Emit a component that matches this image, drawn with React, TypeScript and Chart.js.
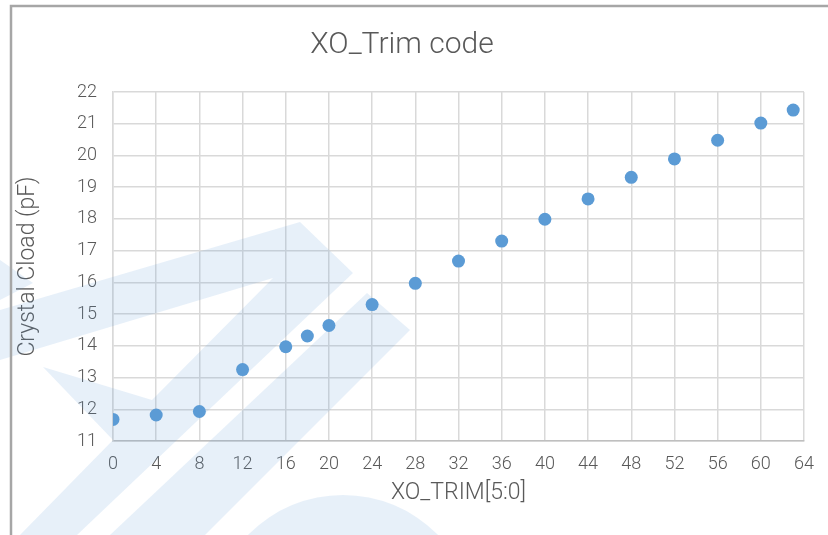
import React, { useEffect, useRef } from "react";
import { Chart, registerables } from "chart.js";

Chart.register(...registerables);

// ---- data ----
const trimCodes: number[] = [0, 4, 8, 12, 16, 18, 20, 24, 28, 32, 36, 40, 44, 48, 52, 56, 60, 63];
const crystalCloadPF: number[] = [
  11.68, 11.82, 11.93, 13.25, 13.97, 14.31, 14.64, 15.3, 15.97, 16.67, 17.3, 17.99, 18.63, 19.31,
  19.89, 20.48, 21.02, 21.43,
];
const xTickValues: number[] = [0, 4, 8, 12, 16, 20, 24, 28, 32, 36, 40, 44, 48, 52, 56, 60, 64];
const yTickValues: number[] = [11, 12, 13, 14, 15, 16, 17, 18, 19, 20, 21, 22];

const chartTitle = "XO_Trim code";
const xAxisTitle = "XO_TRIM[5:0]";
const yAxisTitle = "Crystal Cload (pF)";

// ---- decoration (background watermark, frame) ----
const WATERMARK_FILL = "rgba(91,155,213,0.15)";
const watermarkPolys: number[][][] = [
  [[0, 260], [33, 283], [0, 300]],
  [[0, 310], [300, 222], [353, 273], [273, 278], [0, 360]],
  [[43, 367], [152, 400], [273, 278], [353, 273], [77, 535], [20, 535], [113, 440]],
  [[110, 535], [367, 293], [410, 330], [205, 535]],
];
const watermarkCircle = { cx: 343, cy: 628, r: 133 };

const TEXT = "#595959";
const FONT = "Roboto, 'Liberation Sans', sans-serif";

const backgroundPlugin = {
  id: "bgWhite",
  beforeDraw(chart: any) {
    const ctx = chart.ctx;
    ctx.save();
    ctx.fillStyle = "#ffffff";
    ctx.fillRect(0, 0, chart.width, chart.height);
    ctx.restore();
  },
};

const watermarkPlugin = {
  id: "watermark",
  beforeDatasetsDraw(chart: any) {
    const ctx = chart.ctx;
    ctx.save();
    ctx.fillStyle = WATERMARK_FILL;
    for (const poly of watermarkPolys) {
      ctx.beginPath();
      poly.forEach(([x, y], i) => (i === 0 ? ctx.moveTo(x, y) : ctx.lineTo(x, y)));
      ctx.closePath();
      ctx.fill();
    }
    ctx.beginPath();
    ctx.arc(watermarkCircle.cx, watermarkCircle.cy, watermarkCircle.r, 0, Math.PI * 2);
    ctx.fill();
    ctx.restore();
  },
};

const framePlugin = {
  id: "frame",
  afterDraw(chart: any) {
    const ctx = chart.ctx;
    ctx.save();
    ctx.strokeStyle = "#a6a6a6";
    ctx.lineWidth = 2.5;
    ctx.beginPath();
    ctx.moveTo(11, chart.height + 5);
    ctx.lineTo(11, 6);
    ctx.lineTo(chart.width + 5, 6);
    ctx.stroke();
    ctx.restore();
  },
};

export default function App() {
  const canvasRef = useRef<HTMLCanvasElement | null>(null);

  useEffect(() => {
    if (!canvasRef.current) return;
    const points = trimCodes.map((x, i) => ({ x, y: crystalCloadPF[i] }));
    const chart = new Chart(canvasRef.current, {
      type: "scatter",
      data: {
        datasets: [
          {
            label: yAxisTitle,
            data: points,
            backgroundColor: "#5b9bd5",
            borderWidth: 0,
            pointRadius: 6.5,
            pointHoverRadius: 6.5,
          },
        ],
      },
      options: {
        animation: false,
        responsive: false,
        devicePixelRatio: 1,
        layout: { padding: { left: 0, right: 24, top: 0, bottom: 0 } },
        plugins: {
          legend: { display: false },
          tooltip: { enabled: false },
          title: {
            display: true,
            text: chartTitle,
            color: TEXT,
            font: { family: FONT, size: 30, weight: "300", lineHeight: 1.2 },
            padding: { top: 27, bottom: 29 },
          },
        },
        scales: {
          x: {
            type: "linear",
            min: xTickValues[0],
            max: xTickValues[xTickValues.length - 1],
            afterBuildTicks(scale: any) {
              scale.ticks = xTickValues.map((v) => ({ value: v }));
            },
            afterFit(scale: any) {
              scale.height = 94;
            },
            grid: { color: "#d9d9d9", lineWidth: 1.5, drawTicks: false },
            border: { color: "#bfbfbf", width: 1.5 },
            ticks: {
              color: TEXT,
              padding: 13,
              maxRotation: 0,
              autoSkip: false,
              font: { family: FONT, size: 18, weight: "300" },
            },
            title: {
              display: true,
              text: xAxisTitle,
              color: TEXT,
              font: { family: FONT, size: 23, weight: "300", lineHeight: 1.2 },
              padding: { top: 0, bottom: 28 },
            },
          },
          y: {
            type: "linear",
            min: yTickValues[0],
            max: yTickValues[yTickValues.length - 1],
            afterBuildTicks(scale: any) {
              scale.ticks = yTickValues.map((v) => ({ value: v }));
            },
            afterFit(scale: any) {
              scale.width = 113;
            },
            grid: { color: "#d9d9d9", lineWidth: 1.5, drawTicks: false },
            border: { color: "#d9d9d9", width: 1.5 },
            ticks: {
              color: TEXT,
              padding: 16,
              autoSkip: false,
              font: { family: FONT, size: 18, weight: "300" },
            },
            title: {
              display: true,
              text: yAxisTitle,
              color: TEXT,
              font: { family: FONT, size: 23, weight: "300", lineHeight: 1.2 },
              padding: { top: 14, bottom: 0 },
            },
          },
        },
      },
      plugins: [backgroundPlugin, watermarkPlugin, framePlugin],
    });
    return () => chart.destroy();
  }, []);

  return (
    <div style={{ position: "fixed", left: 0, top: 0, width: 828, height: 535 }}>
      <canvas ref={canvasRef} width={828} height={535} style={{ width: 828, height: 535, display: "block" }} />
    </div>
  );
}
